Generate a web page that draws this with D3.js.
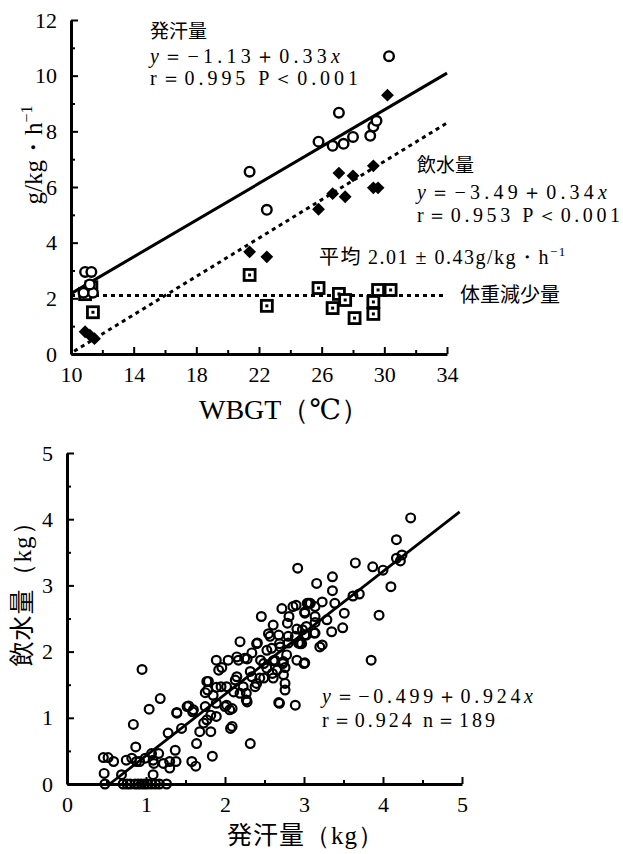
<!DOCTYPE html>
<html>
<head>
<meta charset="utf-8">
<script src="https://cdn.jsdelivr.net/npm/d3@7"></script>
<style>
  body { margin: 0; background: #fff; }
  svg { display: block; }
  .serif { font-family: "Liberation Serif", "DejaVu Serif", serif; }
  .jp { font-family: "Noto Sans CJK JP", sans-serif; }
</style>
</head>
<body>
<div id="chart"></div>
<script>
// top chart: WBGT vs g/kg/h
const sweatPts = [[10.9,2.95],[11.3,2.95],[11.4,2.2],[10.8,2.2],[11.2,2.5],
  [21.4,6.55],[22.5,5.18],[25.8,7.63],[26.7,7.48],[27.4,7.55],[28.0,7.8],[27.1,8.67],
  [29.1,7.84],[29.3,8.17],[29.5,8.38],[30.3,10.7]];
const waterPts = [[10.9,0.8],[11.2,0.68],[11.5,0.55],
  [21.4,3.67],[22.5,3.49],[25.8,5.2],[26.7,5.76],[27.1,6.5],[27.5,5.65],[28.0,6.4],
  [29.3,6.76],[29.3,5.97],[29.6,5.97],[30.2,9.3]];
const lossPts = [[10.9,2.15],[11.3,2.4],[11.4,1.5],
  [21.4,2.84],[22.5,1.73],[25.8,2.37],[27.1,2.16],[27.5,1.94],[26.7,1.65],[28.1,1.29],
  [29.6,2.3],[30.4,2.3],[29.3,1.87],[29.3,1.44]];
const sweatLine = [[10,2.17],[34,10.09]];
const waterLine = [[10.2,0.1],[34,8.3]];
const meanLine = [[10,2.1],[34,2.1]];
const topXTicks = [10,14,18,22,26,30,34];
const topXMinor = [12,16,20,24,28,32];
const topYTicks = [0,2,4,6,8,10,12];
const topYMinor = [1,3,5,7,9,11];

// bottom chart: sweat vs water intake (kg)
const intakePts = [
  [0.48,0],[0.71,0],[0.76,0],[0.80,0],[0.86,0],[0.90,0],[0.94,0],[0.98,0],[1.02,0],[1.07,0],[1.12,0],[1.17,0],[1.26,0],
  [0.46,0.40],[0.52,0.40],[0.59,0.34],[0.47,0.16],[0.69,0.14],[0.75,0.36],[0.82,0.39],[0.88,0.34],[0.92,0.34],
  [0.99,0.39],[1.07,0.46],[1.16,0.46],[1.09,0.36],[1.10,0.31],[1.09,0.14],[1.22,0.31],[1.30,0.24],[1.30,0.34],
  [1.38,0.34],[1.37,0.51],[1.28,0.77],[0.87,0.56],[0.84,0.90],[0.95,1.73],[1.04,1.13],[1.18,1.29],[1.39,1.08],
  [1.45,0.84],[1.54,1.18],[1.59,1.09],[1.58,0.34],[1.63,0.27],[1.64,0.61],[1.68,0.79],[1.73,0.92],[1.84,0.42],
  [1.82,0.79],[1.82,1.04],[1.75,1.17],[1.78,1.42],[1.79,1.55],[1.89,1.22],[1.89,1.87],[1.92,1.72],[1.95,1.47],
  [2.02,1.19],[2.06,1.12],[2.07,0.84],[2.04,1.87],[2.11,1.39],[2.15,1.62],[2.17,1.87],[2.19,2.15],[2.25,1.90],
  [2.27,1.37],[2.32,0.61],[2.28,1.24],[2.34,1.62],[2.40,2.12],[2.46,2.53],[2.40,1.52],[2.49,1.82],[2.49,1.60],
  [2.53,2.02],[2.57,2.23],[2.61,2.40],[2.60,1.67],[2.63,1.87],[2.69,2.12],[2.69,1.22],[2.72,2.65],[2.73,1.82],
  [2.76,1.52],[2.79,2.43],[2.80,2.23],[2.78,1.95],[2.86,2.68],[2.89,2.23],[2.92,3.26],[2.90,2.70],[2.97,2.12],
  [2.98,2.33],[2.89,1.19],[3.00,1.82],[3.08,2.73],[3.16,3.03],[3.14,2.53],[3.20,2.07],
  [3.04,2.73],[2.81,2.53],[3.01,2.58],[2.55,2.27],[2.68,2.25],[2.91,2.34],[3.03,2.25],[3.13,2.28],[2.41,2.13],
  [2.59,2.05],[2.70,2.07],[2.80,2.13],[2.93,2.13],[2.15,1.92],[2.28,1.89],[2.34,1.98],[2.45,1.87],[2.61,1.86],
  [2.74,1.85],[2.91,1.87],[1.96,1.76],[2.32,1.70],[2.44,1.60],[2.53,1.75],[2.66,1.72],[2.76,1.76],[2.74,1.65],
  [2.61,1.60],[1.77,1.55],[1.89,1.46],[2.02,1.47],[2.13,1.57],[2.23,1.47],[2.38,1.47],[2.76,1.42],[1.75,1.38],
  [1.85,1.34],[2.19,1.37],[2.27,1.27],[2.68,1.23],[1.39,1.07],[1.52,1.17],[1.60,1.12],[2.00,1.17],[2.09,1.14],
  [1.89,1.02],[1.77,0.97],[2.09,0.87],
  [4.35,4.02],[4.17,3.69],[4.17,3.41],[4.24,3.46],[4.22,3.37],[3.65,3.34],[3.87,3.28],[4.00,3.23],[4.10,2.98],
  [3.95,2.55],[3.85,1.87],[3.70,2.87],[3.62,2.84],[3.36,3.13],[3.36,2.92],[3.23,2.75],[3.39,2.73],[3.06,2.73],
  [3.01,2.60],[3.14,2.68],[3.51,2.58],[3.29,2.48],[3.14,2.44],[3.03,2.38],[3.01,2.25],[3.14,2.28],[3.35,2.30],
  [3.49,2.36],[3.23,2.10],[3.01,1.83],[2.95,2.12]
];
const intakeLine = [[0.54,0],[4.97,4.11]];
const botTicks = [0,1,2,3,4,5];
const botMinor = [0.5,1.5,2.5,3.5,4.5];

const W = 623, H = 854;
const svg = d3.select("#chart").append("svg").attr("width", W).attr("height", H);

function drawAxes(g, x, y, xt, xm, yt, ym) {
  const [x0] = x.range(), [y0] = y.range();
  g.append("g").attr("transform", `translate(0,${y0})`)
    .call(d3.axisBottom(x).tickValues(xt).tickSizeInner(-7).tickSizeOuter(0).tickPadding(12).tickFormat(d3.format("d")));
  g.append("g").attr("transform", `translate(0,${y0})`)
    .call(d3.axisBottom(x).tickValues(xm).tickSize(-4).tickFormat(""))
    .select(".domain").remove();
  g.append("g").attr("transform", `translate(${x0},0)`)
    .call(d3.axisLeft(y).tickValues(yt).tickSizeInner(-7).tickSizeOuter(0).tickPadding(14).tickFormat(d3.format("d")));
  g.append("g").attr("transform", `translate(${x0},0)`)
    .call(d3.axisLeft(y).tickValues(ym).tickSize(-4).tickFormat(""))
    .select(".domain").remove();
  g.selectAll(".domain").attr("stroke", "#000").attr("stroke-width", 3);
  g.selectAll(".tick line").attr("stroke", "#000").attr("stroke-width", 2);
  g.selectAll(".tick text").attr("class", "serif").attr("font-size", 22).attr("fill", "#000");
}

// ---------- top ----------
const xT = d3.scaleLinear().domain([10, 34]).range([71, 447]);
const yT = d3.scaleLinear().domain([0, 12]).range([354, 20]);
const gT = svg.append("g");
drawAxes(gT, xT, yT, topXTicks, topXMinor, topYTicks, topYMinor);

const lineT = d3.line().x(d => xT(d[0])).y(d => yT(d[1]));
gT.append("path").datum(sweatLine).attr("d", lineT)
  .attr("stroke", "#000").attr("stroke-width", 3).attr("fill", "none");
gT.append("path").datum(waterLine).attr("d", lineT)
  .attr("stroke", "#000").attr("stroke-width", 3).attr("stroke-dasharray", "4,4").attr("fill", "none");
gT.append("path").datum(meanLine).attr("d", lineT)
  .attr("stroke", "#000").attr("stroke-width", 3).attr("stroke-dasharray", "4,4").attr("fill", "none");

const sq = gT.selectAll(".sq").data(lossPts).enter().append("g")
  .attr("transform", d => `translate(${xT(d[0])},${yT(d[1])})`);
sq.append("rect").attr("x", -5.5).attr("y", -5.5).attr("width", 11).attr("height", 11)
  .attr("fill", "#fff").attr("stroke", "#000").attr("stroke-width", 2.8);
sq.append("rect").attr("x", -1.5).attr("y", -1.5).attr("width", 3).attr("height", 3).attr("fill", "#000");

gT.selectAll(".dm").data(waterPts).enter().append("path")
  .attr("d", d3.symbol(d3.symbolDiamond2, 105))
  .attr("transform", d => `translate(${xT(d[0])},${yT(d[1])})`)
  .attr("fill", "#000");

gT.selectAll(".ci").data(sweatPts).enter().append("circle")
  .attr("cx", d => xT(d[0])).attr("cy", d => yT(d[1])).attr("r", 4.8)
  .attr("fill", "#fff").attr("stroke", "#000").attr("stroke-width", 2.4);

// annotations
function txt(x, y, s, cls, size, len) {
  const t = svg.append("text").attr("x", x).attr("y", y).attr("class", cls)
    .attr("font-size", size).attr("fill", "#000").text(s);
  if (len) t.attr("textLength", len).attr("lengthAdjust", "spacing");
  return t;
}
function eqn(x, y, a, len) {
  const t = svg.append("text").attr("x", x).attr("y", y).attr("class", "serif")
    .attr("font-size", 20).attr("fill", "#000").attr("textLength", len).attr("lengthAdjust", "spacing");
  t.append("tspan").attr("font-style", "italic").text("y");
  t.append("tspan").text(a);
  t.append("tspan").attr("font-style", "italic").text("x");
}
txt(150, 38, "発汗量", "jp", 19);
eqn(150, 63, "＝−1.13＋0.33", 190);
txt(150, 85, "r＝0.995  P＜0.001", "serif", 20, 208);
txt(417, 172, "飲水量", "jp", 19);
eqn(417, 199, "＝−3.49＋0.34", 190);
txt(417, 222, "r＝0.953  P＜0.001", "serif", 20, 203);
const avg = txt(319, 264, "", "serif", 20).attr("letter-spacing", 1.5);
avg.append("tspan").attr("class", "jp").text("平均 ");
avg.append("tspan").text("2.01 ± 0.43g/kg・h");
avg.append("tspan").attr("dy", -8).attr("font-size", 13).text("−1");
txt(460, 302, "体重減少量", "jp", 20);

txt(199, 419, "WBGT（℃）", "serif", 28);
const yl = svg.append("text").attr("transform", "translate(42,155) rotate(-90)")
  .attr("text-anchor", "middle").attr("class", "serif").attr("font-size", 25).attr("fill", "#000");
yl.append("tspan").text("g/kg・h");
yl.append("tspan").attr("dy", -10).attr("font-size", 16).text("−1");

// ---------- bottom ----------
const xB = d3.scaleLinear().domain([0, 5]).range([67, 462]);
const yB = d3.scaleLinear().domain([0, 5]).range([784, 453]);
const gB = svg.append("g");
drawAxes(gB, xB, yB, botTicks, botMinor, botTicks, botMinor);

gB.selectAll(".pt").data(intakePts).enter().append("circle")
  .attr("cx", d => xB(d[0])).attr("cy", d => yB(d[1])).attr("r", 4.4)
  .attr("fill", "none").attr("stroke", "#000").attr("stroke-width", 2.2);

gB.append("path").datum(intakeLine)
  .attr("d", d3.line().x(d => xB(d[0])).y(d => yB(d[1])))
  .attr("stroke", "#000").attr("stroke-width", 2.8).attr("fill", "none");

eqn(322, 703, "＝−0.499＋0.924", 211);
txt(322, 727, "r＝0.924  n＝189", "serif", 20, 173);

const xl = txt(227, 844, "", "jp", 25).attr("letter-spacing", 1);
xl.append("tspan").text("発汗量");
xl.append("tspan").attr("class", "serif").text("（kg）");
const yl2 = svg.append("text").attr("transform", "translate(31,588) rotate(-90)")
  .attr("text-anchor", "middle").attr("class", "jp").attr("font-size", 25)
  .attr("letter-spacing", 1).attr("fill", "#000");
yl2.append("tspan").text("飲水量");
yl2.append("tspan").attr("class", "serif").text("（kg）");
</script>
</body>
</html>
